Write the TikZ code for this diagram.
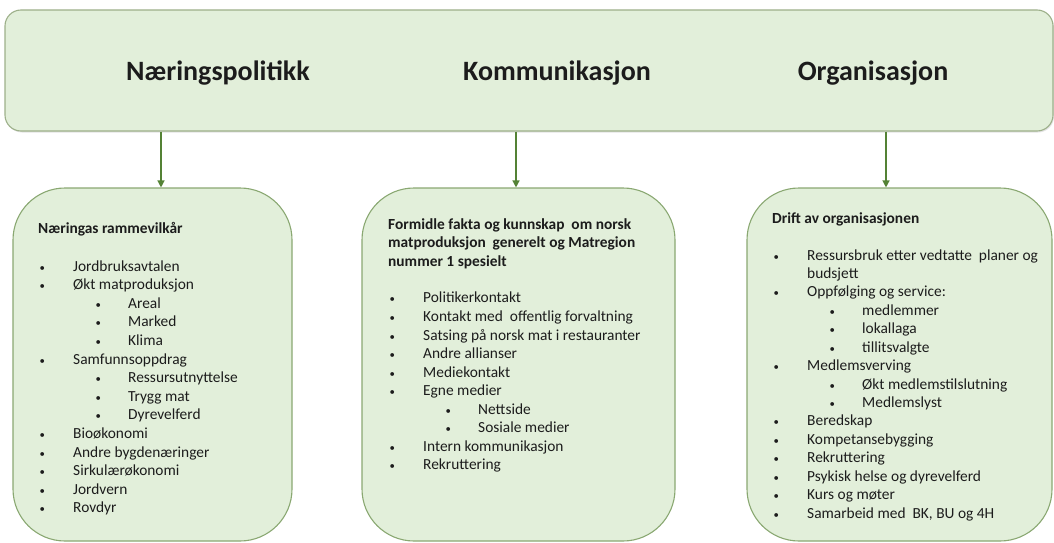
\documentclass[tikz,border=0pt]{standalone}
\usepackage{fontspec}
\setmainfont{Carlito}
\usetikzlibrary{arrows.meta,shadows}
\definecolor{boxfill}{HTML}{E2EFDA}
\definecolor{bannerline}{HTML}{9DB08A}
\definecolor{boxline}{HTML}{8AA872}
\definecolor{arrowcol}{HTML}{548235}
\definecolor{txt}{HTML}{1C1C1C}
\newcommand\bdot{\scalebox{0.7}{\textbullet}}
\newcommand\bl[1]{\makebox[0pt][l]{\hspace{4pt}\makebox[0pt][c]{\bdot}}\hspace{35pt}#1\par}
\newcommand\sbl[1]{\hspace{60pt}\makebox[0pt][c]{\bdot}\hspace{30pt}#1\par}
\newcommand\cnt[1]{\hspace{35pt}#1\par}
\newcommand\wsp{\hspace{0.45em}}
\tikzset{
  banner/.style={draw=bannerline, line width=1.1pt, fill=boxfill, rounded corners=16pt,
    drop shadow={opacity=0.22, shadow xshift=1pt, shadow yshift=-1.5pt}},
  topicbox/.style={draw=boxline, line width=1.1pt, fill=boxfill, rounded corners=52pt},
  titletext/.style={font=\fontsize{28}{32}\selectfont\bfseries, text=txt, inner sep=0pt},
  listtext/.style={inner sep=0pt, anchor=base west, text=txt, font=\fontsize{15.4}{18.6}\selectfont},
  conn/.style={draw=arrowcol, line width=1.3pt, -{Triangle[width=7pt,length=7pt]}}
}
\begin{document}
\begin{tikzpicture}[x=1pt,y=-1pt]
\useasboundingbox (0,0) rectangle (1054,543);
\node[banner, minimum width=1048pt, minimum height=121pt] (ban) at (529,70.5) {};
\node[titletext] (t1) at (218,73) {Næringspolitikk};
\node[titletext] (t2) at (557,73) {Kommunikasjon};
\node[titletext] (t3) at (873,73) {Organisasjon};

\node[topicbox, minimum width=279pt, minimum height=353pt] (b1) at (152.5,364.5) {};
\node[topicbox, minimum width=313pt, minimum height=353pt] (b2) at (518.5,364.5) {};
\node[topicbox, minimum width=305pt, minimum height=353pt] (b3) at (899.5,364.5) {};

\coordinate (x1) at (161,0);
\coordinate (x2) at (516,0);
\coordinate (x3) at (886,0);
\draw[conn] (ban.south -| x1) -- (b1.north -| x1);
\draw[conn] (ban.south -| x2) -- (b2.north -| x2);
\draw[conn] (ban.south -| x3) -- (b3.north -| x3);

\node[listtext] (l1) at (38,233) {\begin{minipage}[t]{250pt}\parindent=0pt\baselineskip=18.6pt
{\bfseries Næringas rammevilkår}\par\vspace{19.4pt}
\bl{Jordbruksavtalen}
\bl{Økt matproduksjon}
\sbl{Areal}
\sbl{Marked}
\sbl{Klima}
\bl{Samfunnsoppdrag}
\sbl{Ressursutnyttelse}
\sbl{Trygg mat}
\sbl{Dyrevelferd}
\bl{Bioøkonomi}
\bl{Andre bygdenæringer}
\bl{Sirkulærøkonomi}
\bl{Jordvern}
\bl{Rovdyr}
\end{minipage}};

\node[listtext] (l2) at (388,229) {\begin{minipage}[t]{280pt}\parindent=0pt\baselineskip=18.6pt
{\bfseries Formidle fakta og kunnskap\wsp om norsk\par
matproduksjon\wsp generelt og Matregion\par
nummer 1 spesielt}\par\vspace{18.2pt}
\baselineskip=18.55pt
\bl{Politikerkontakt}
\bl{Kontakt med\wsp offentlig forvaltning}
\bl{Satsing på norsk mat i restauranter}
\bl{Andre allianser}
\bl{Mediekontakt}
\bl{Egne medier}
\sbl{Nettside}
\sbl{Sosiale medier}
\bl{Intern kommunikasjon}
\bl{Rekruttering}
\end{minipage}};

\node[listtext] (l3) at (772,223) {\begin{minipage}[t]{275pt}\parindent=0pt\baselineskip=18.43pt
{\bfseries Drift av organisasjonen}\par\vspace{18.6pt}
\bl{Ressursbruk etter vedtatte\wsp planer og}
\cnt{budsjett}
\bl{Oppfølging og service:}
\sbl{medlemmer}
\sbl{lokallaga}
\sbl{tillitsvalgte}
\bl{Medlemsverving}
\sbl{Økt medlemstilslutning}
\sbl{Medlemslyst}
\bl{Beredskap}
\bl{Kompetansebygging}
\bl{Rekruttering}
\bl{Psykisk helse og dyrevelferd}
\bl{Kurs og møter}
\bl{Samarbeid med\wsp BK, BU og 4H}
\end{minipage}};
\end{tikzpicture}
\end{document}
